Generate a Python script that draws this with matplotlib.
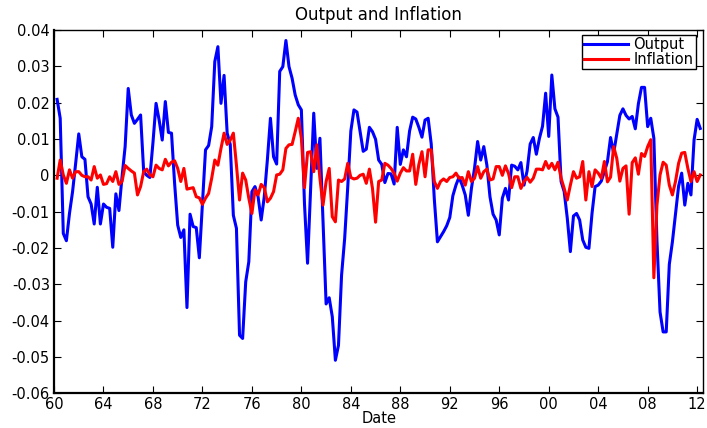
import matplotlib
matplotlib.use("Agg")
import matplotlib.pyplot as plt
import numpy as np

plt.rcParams['font.family'] = ['DejaVu Sans']
plt.rcParams['axes.unicode_minus'] = False

# quarterly series, 1960Q2 .. 2012Q2 (one row per year)
output = [
    0.0209, 0.0157, -0.0160,
    -0.0180, -0.0105, -0.0045, 0.0033,
    0.0114, 0.0051, 0.0044, -0.0059,
    -0.0079, -0.0134, -0.0033, -0.0134,
    -0.0079, -0.0088, -0.0091, -0.0198,
    -0.0051, -0.0097, -0.0004, 0.0079,
    0.0239, 0.0166, 0.0143, 0.0154,
    0.0166, 0.0010, 0.0000, -0.0006,
    0.0090, 0.0198, 0.0152, 0.0097,
    0.0203, 0.0118, 0.0116, -0.0022,
    -0.0137, -0.0171, -0.0150, -0.0364,
    -0.0107, -0.0141, -0.0144, -0.0227,
    -0.0080, 0.0070, 0.0082, 0.0134,
    0.0313, 0.0354, 0.0198, 0.0275,
    0.0116, 0.0085, -0.0110, -0.0146,
    -0.0440, -0.0449, -0.0293, -0.0238,
    -0.0045, -0.0031, -0.0059, -0.0123,
    -0.0059, 0.0042, 0.0157, 0.0051,
    0.0031, 0.0286, 0.0299, 0.0371,
    0.0299, 0.0267, 0.0221, 0.0194,
    0.0180, -0.0077, -0.0242, -0.0036,
    0.0171, 0.0019, 0.0102, -0.0123,
    -0.0354, -0.0337, -0.0389, -0.0509,
    -0.0468, -0.0275, -0.0174, -0.0032,
    0.0122, 0.0180, 0.0174, 0.0120,
    0.0066, 0.0072, 0.0132, 0.0120,
    0.0099, 0.0042, 0.0030, -0.0020,
    0.0005, 0.0004, -0.0024, 0.0132,
    0.0030, 0.0070, 0.0051, 0.0122,
    0.0160, 0.0155, 0.0132, 0.0105,
    0.0152, 0.0157, 0.0086, -0.0066,
    -0.0183, -0.0169, -0.0155, -0.0139,
    -0.0116, -0.0056, -0.0027, -0.0005,
    -0.0027, -0.0054, -0.0110, -0.0036,
    0.0019, 0.0093, 0.0042, 0.0079,
    0.0028, -0.0059, -0.0107, -0.0123,
    -0.0164, -0.0063, -0.0036, -0.0068,
    0.0028, 0.0025, 0.0015, 0.0035,
    -0.0027, 0.0012, 0.0086, 0.0104,
    0.0058, 0.0102, 0.0135, 0.0226,
    0.0107, 0.0276, 0.0183, 0.0160,
    -0.0017, -0.0045, -0.0118, -0.0210,
    -0.0112, -0.0105, -0.0123, -0.0178,
    -0.0198, -0.0201, -0.0105, -0.0031,
    -0.0027, -0.0016, 0.0010, 0.0038,
    0.0104, 0.0061, 0.0113, 0.0165,
    0.0183, 0.0165, 0.0155, 0.0162,
    0.0128, 0.0197, 0.0242, 0.0242,
    0.0134, 0.0157, 0.0102, -0.0180,
    -0.0376, -0.0431, -0.0431, -0.0245,
    -0.0183, -0.0107, -0.0030, 0.0006,
    -0.0082, -0.0022, -0.0054, 0.0097,
    0.0154, 0.0129,
]

inflation = [
    -0.0008, 0.0042, 0.0001,
    -0.0022, 0.0015, -0.0008, 0.0010,
    0.0010, 0.0000, -0.0004, -0.0004,
    -0.0013, 0.0024, -0.0008, 0.0001,
    -0.0025, -0.0023, -0.0004, -0.0017,
    0.0010, -0.0025, -0.0017, 0.0027,
    0.0019, 0.0012, 0.0006, -0.0054,
    -0.0031, 0.0010, 0.0017, 0.0001,
    -0.0004, 0.0028, 0.0019, 0.0015,
    0.0044, 0.0026, 0.0036, 0.0040,
    0.0019, -0.0017, 0.0019, -0.0038,
    -0.0036, -0.0034, -0.0059, -0.0062,
    -0.0080, -0.0063, -0.0050, -0.0008,
    0.0042, 0.0028, 0.0074, 0.0116,
    0.0085, 0.0097, 0.0116, 0.0028,
    -0.0068, 0.0006, -0.0013, -0.0063,
    -0.0105, -0.0040, -0.0054, -0.0025,
    -0.0034, -0.0073, -0.0063, -0.0045,
    0.0001, 0.0003, 0.0015, 0.0074,
    0.0084, 0.0085, 0.0120, 0.0157,
    0.0102, -0.0034, 0.0063, 0.0065,
    0.0010, 0.0084, -0.0008, -0.0082,
    -0.0017, 0.0019, -0.0114, -0.0128,
    -0.0013, -0.0017, -0.0010, 0.0033,
    -0.0006, -0.0010, -0.0008, 0.0000,
    0.0003, -0.0022, 0.0017, -0.0036,
    -0.0129, -0.0017, -0.0013, 0.0033,
    0.0028, 0.0019, 0.0006, -0.0016,
    0.0006, 0.0021, 0.0012, 0.0012,
    0.0058, -0.0025, 0.0030, 0.0065,
    -0.0004, 0.0070, 0.0070, -0.0017,
    -0.0036, -0.0017, -0.0010, -0.0017,
    -0.0006, -0.0004, 0.0006, -0.0008,
    -0.0006, -0.0027, 0.0010, -0.0017,
    -0.0008, 0.0024, -0.0008, 0.0010,
    0.0017, -0.0013, -0.0010, 0.0024,
    0.0024, 0.0000, 0.0026, 0.0005,
    -0.0034, -0.0004, -0.0004, -0.0036,
    -0.0017, -0.0006, -0.0019, -0.0008,
    0.0017, 0.0017, 0.0015, 0.0038,
    0.0019, 0.0033, 0.0015, 0.0036,
    -0.0008, -0.0036, -0.0068, -0.0027,
    0.0010, -0.0008, -0.0004, 0.0038,
    -0.0068, 0.0010, -0.0031, 0.0015,
    0.0006, -0.0008, 0.0038, -0.0018,
    -0.0005, 0.0079, 0.0047, -0.0016,
    0.0019, 0.0026, -0.0107, 0.0035,
    0.0048, 0.0003, 0.0060, 0.0052,
    0.0079, 0.0098, -0.0282, -0.0082,
    0.0001, 0.0036, 0.0028, -0.0027,
    -0.0054, -0.0017, 0.0033, 0.0061,
    0.0063, 0.0019, -0.0017, 0.0010,
    -0.0017, 0.0001,
]

year_ticks = list(range(1960, 2013, 4))
year_labels = ['60', '64', '68', '72', '76', '80', '84', '88', '92', '96', '00', '04', '08', '12']
y_ticks = [-0.06, -0.05, -0.04, -0.03, -0.02, -0.01, 0, 0.01, 0.02, 0.03, 0.04]
y_labels = ['-0.06', '-0.05', '-0.04', '-0.03', '-0.02', '-0.01', '0', '0.01', '0.02', '0.03', '0.04']

dates = 1960 + np.arange(1, len(output) + 1) / 4.0

fig = plt.figure(figsize=(7.07, 4.28), dpi=100)
ax = fig.add_axes([0.0764, 0.081, 0.9184, 0.849])

ax.plot(dates, output, color='b', lw=2.2, label='Output')
ax.plot(dates, inflation, color='r', lw=2.2, label='Inflation')

ax.set_xlim(1960, 2012.5)
ax.set_ylim(-0.06, 0.04)
ax.set_xticks(year_ticks)
ax.set_xticklabels(year_labels)
ax.set_yticks(y_ticks)
ax.set_yticklabels(y_labels)
ax.tick_params(direction='in', top=True, right=True, length=5, width=0.8,
               labelsize=10.5, pad=3)
for s in ax.spines.values():
    s.set_linewidth(1.0)
ax.spines['left'].set_linewidth(1.6)
ax.spines['bottom'].set_linewidth(1.6)

ax.set_title('Output and Inflation', fontsize=12, pad=7)
ax.set_xlabel('Date', fontsize=10.5, labelpad=-1)

leg = ax.legend(loc='upper right', bbox_to_anchor=(0.988, 0.986), fontsize=10.5,
                fancybox=False, edgecolor='k', framealpha=1, handlelength=3.0,
                handletextpad=0.35, borderpad=0.15, labelspacing=0.0,
                borderaxespad=0)
leg.get_frame().set_linewidth(1.0)

fig.savefig('out.png', dpi=100)
